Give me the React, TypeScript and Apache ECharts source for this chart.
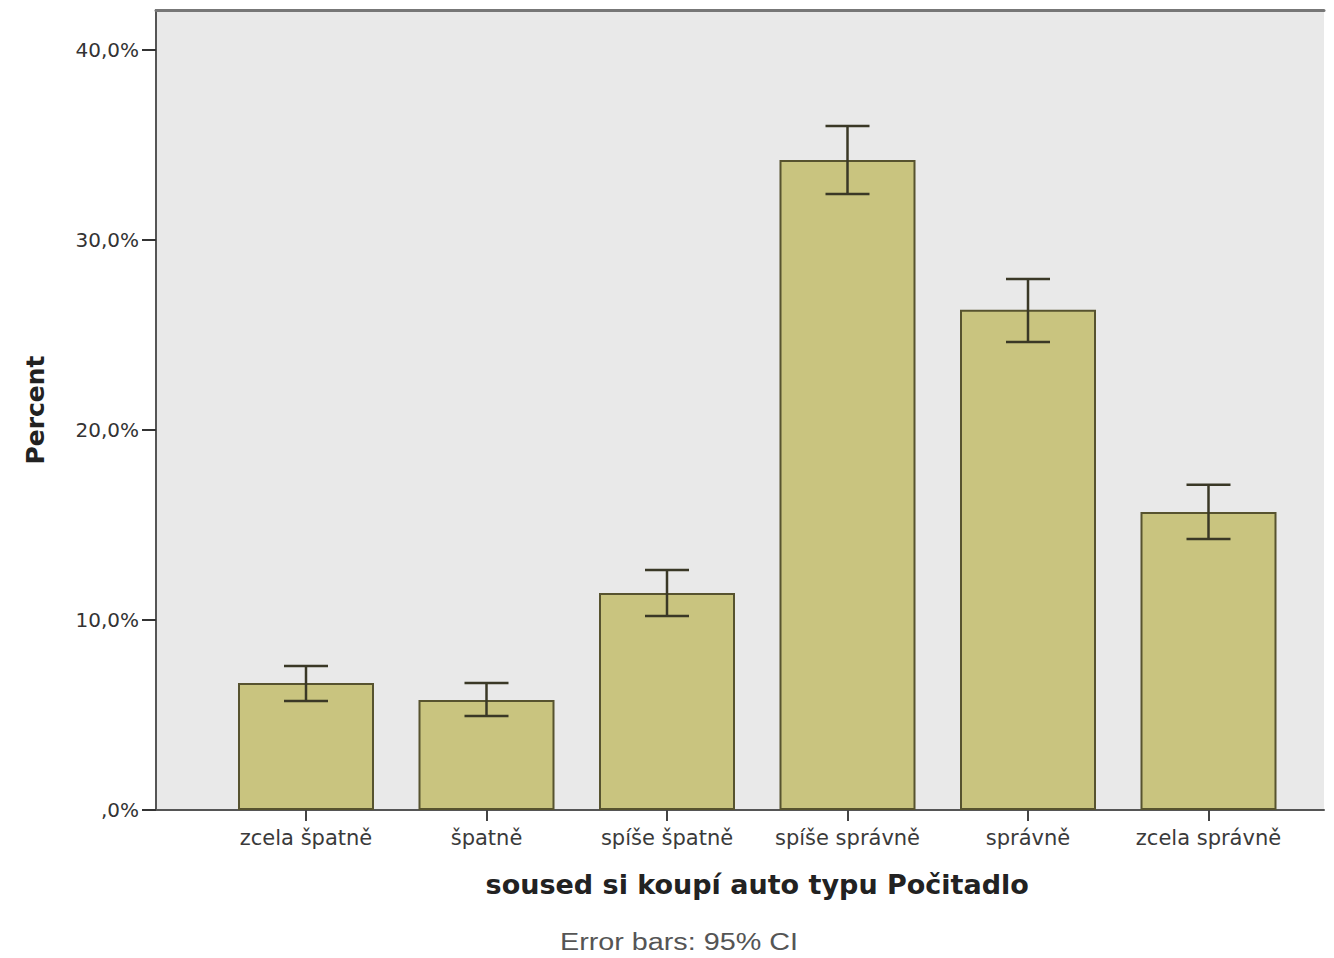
import React, { useEffect, useRef } from "react";
import * as echarts from "echarts";

const categories = ["zcela špatně", "špatně", "spíše špatně", "spíše správně", "správně", "zcela správně"];
const percentValues = [6.68, 5.79, 11.42, 34.21, 26.32, 15.68];
const ciLower = [5.74, 4.95, 10.21, 32.42, 24.63, 14.26];
const ciUpper = [7.58, 6.68, 12.63, 36.0, 27.95, 17.11];
const yTicks = [0, 10, 20, 30, 40];
const yAxisTitle = "Percent";
const xAxisTitle = "soused si koupí auto typu Počitadlo";
const footnote = "Error bars: 95% CI";

const FONT = "DejaVu Sans";

export default function App() {
  const ref = useRef<HTMLDivElement>(null);
  useEffect(() => {
    if (!ref.current) return;
    const chart = echarts.init(ref.current, undefined, { renderer: "svg" });
    const errData = categories.map((_, i) => [i, ciLower[i], ciUpper[i]]);
    const fmt = (v: number) => (v === 0 ? ",0%" : v.toFixed(1).replace(".", ",") + "%");
    chart.setOption({
      animation: false,
      backgroundColor: "#ffffff",
      grid: [
        {
          left: 156, top: 10, width: 1168, height: 800,
          show: true, backgroundColor: "#e9e9e9", borderWidth: 0,
        },
        { left: 215.75, top: 10, width: 1083, height: 800 },
      ],
      xAxis: [
        {
          gridIndex: 0, type: "value", min: 0, max: 1, position: "bottom",
          axisLine: { show: true, lineStyle: { color: "#555", width: 2 } },
          axisTick: { show: false }, axisLabel: { show: false }, splitLine: { show: false },
        },
        {
          gridIndex: 0, type: "value", min: 0, max: 1, position: "top",
          axisLine: { show: true, lineStyle: { color: "#777", width: 3 } },
          axisTick: { show: false }, axisLabel: { show: false }, splitLine: { show: false },
        },
        {
          gridIndex: 1, type: "category", data: categories,
          axisLine: { show: false },
          axisTick: { show: true, alignWithLabel: true, interval: 0, length: 11, lineStyle: { color: "#444", width: 2 } },
          axisLabel: { interval: 0, hideOverlap: false, fontFamily: FONT, fontSize: 21, color: "#3a3a3a", margin: 17 },
          name: xAxisTitle, nameLocation: "middle", nameGap: 61,
          nameTextStyle: { fontFamily: FONT, fontSize: 27, fontWeight: "bold", color: "#222" },
        },
      ],
      yAxis: [
        {
          gridIndex: 0, type: "value", min: 0, max: 42.1, interval: 10,
          splitLine: { show: false },
          axisLine: { show: true, lineStyle: { color: "#555", width: 2 } },
          axisTick: { show: true, length: 14, customValues: yTicks, lineStyle: { color: "#333", width: 2 } },
          axisLabel: { customValues: yTicks, formatter: fmt, fontFamily: FONT, fontSize: 20, color: "#333", margin: 17 },
          name: yAxisTitle, nameLocation: "middle", nameRotate: 90, nameGap: 108,
          nameTextStyle: { fontFamily: FONT, fontSize: 25, fontWeight: "bold", color: "#222" },
        },
        { gridIndex: 1, type: "value", min: 0, max: 42.1, show: false },
      ],
      series: [
        {
          type: "bar", xAxisIndex: 2, yAxisIndex: 1, data: percentValues, barWidth: 136,
          itemStyle: { color: "#c9c47f", borderColor: "#57532f", borderWidth: 2 },
          z: 2,
        },
        {
          type: "custom", xAxisIndex: 2, yAxisIndex: 1, data: errData, z: 3,
          renderItem: (params: any, api: any) => {
            const i = api.value(0);
            const lo = api.coord([i, api.value(1)]);
            const hi = api.coord([i, api.value(2)]);
            const hw = 22;
            const style = { stroke: "#3a3826", lineWidth: 2.5 };
            return {
              type: "group",
              children: [
                { type: "line", shape: { x1: lo[0], y1: lo[1], x2: hi[0], y2: hi[1] }, style },
                { type: "line", shape: { x1: hi[0] - hw, y1: hi[1], x2: hi[0] + hw, y2: hi[1] }, style },
                { type: "line", shape: { x1: lo[0] - hw, y1: lo[1], x2: lo[0] + hw, y2: lo[1] }, style },
              ],
            };
          },
        },
      ],
      graphic: [
        {
          type: "text", x: 560, y: 942, scaleX: 1.25,
          style: { text: footnote, fontFamily: "Liberation Sans", fontSize: 23, fill: "#555", textVerticalAlign: "middle" },
        },
      ],
    });
    return () => chart.dispose();
  }, []);
  return <div ref={ref} style={{ position: "fixed", left: 0, top: 0, width: 1334, height: 958 }} />;
}
